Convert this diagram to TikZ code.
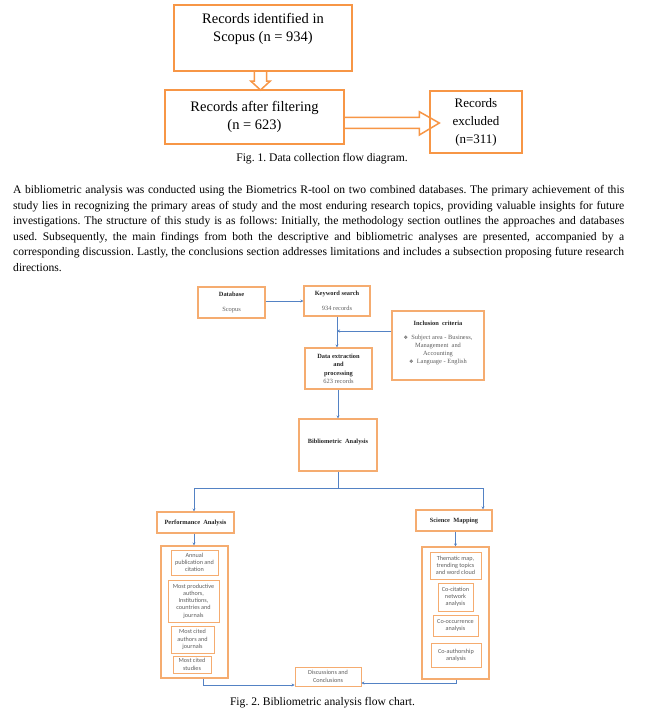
\documentclass[tikz,border=0pt]{standalone}
\usepackage{fontspec}
\setmainfont{Liberation Serif}
\newfontfamily\calfont{Carlito}
\newfontfamily\symfont{DejaVu Sans}
\usetikzlibrary{arrows.meta}
\frenchspacing

\definecolor{naranja}{RGB}{247,150,70}
\definecolor{naranjac}{RGB}{245,172,112}
\definecolor{azul}{RGB}{84,130,196}
\definecolor{gristxt}{RGB}{95,95,95}
\newcommand{\fino}[1]{{\mdseries\color{gristxt}#1}}
\newcommand{\vineta}{{\symfont\fontsize{5}{6}\selectfont ❖}}

\tikzset{
  caja/.style={draw=naranja, line width=2.3pt, inner sep=0pt, align=center, font=\fontsize{14.5}{17.5}\selectfont},
  cajita/.style={draw=naranjac, line width=1.1pt, inner sep=0pt, align=center, text=black!85, font=\fontsize{6.4}{8.5}\selectfont\bfseries},
  interior/.style={draw=naranjac, line width=0.9pt, inner sep=0pt, align=center, text=gristxt, font=\calfont\fontsize{6.2}{7.3}\selectfont},
  hueca/.style={draw=naranja, line width=1.5pt, fill=white},
  flecha/.style={draw=azul, line width=0.9pt, -{Stealth[length=3pt,width=3pt]}},
  linea/.style={draw=azul, line width=0.9pt},
  pie/.style={font=\fontsize{11.6}{14}\selectfont}
}

\begin{document}
\begin{tikzpicture}[x=1pt, y=-1pt]
    \useasboundingbox[fill=white] (0,0) rectangle (656,715);

    % Fig. 1: flechas huecas
    \draw[hueca] (254.3,71) -- (254.3,81) -- (250.7,81) -- (260.5,90) -- (270.3,81) -- (266.5,81) -- (266.5,71) -- cycle;
    \draw[hueca] (344,117.3) -- (419.3,117.3) -- (419.3,111.7) -- (439.3,123) -- (419.3,135) -- (419.3,128.3) -- (344,128.3) -- cycle;

    % Fig. 1: cajas
    \node[caja, minimum width=178pt, minimum height=66pt] (ident) at (263,38) {};
    \node[align=center, inner sep=0pt, font=\fontsize{14.5}{17.5}\selectfont] (identtxt) at (263,29) {Records identified in\\Scopus (n = 934)};
    \node[caja, minimum width=179pt, minimum height=54pt] (filt) at (254.5,117) {Records after filtering\\(n = 623)};
    \node[caja, minimum width=92pt, minimum height=62pt, font=\fontsize{13}{18}\selectfont] (excl) at (476,122) {Records\\excluded\\(n=311)};
    \node[pie] (pie1) at (322,159) {Fig. 1. Data collection flow diagram.};

    % Parrafo
    \node[text width=611pt, align=justify, anchor=north west, inner sep=0pt, font=\fontsize{11.6}{15.5}\selectfont] (parrafo) at (13,185.5) {A bibliometric analysis was conducted using the Biometrics R-tool on two combined databases. The primary achievement of this\linebreak study lies in recognizing the primary areas of study and the most enduring research topics, providing valuable insights for future\linebreak investigations. The structure of this study is as follows: Initially, the methodology section outlines the approaches and databases\linebreak used. Subsequently, the main findings from both the descriptive and bibliometric analyses are presented, accompanied by a\linebreak corresponding discussion. Lastly, the conclusions section addresses limitations and includes a subsection proposing future research\linebreak directions.};

    % Fig. 2: cajas superiores
    \node[cajita, minimum width=67pt, minimum height=31pt] (base) at (231.5,302.5) {Database\\[7pt]\fino{Scopus}};
    \node[cajita, minimum width=66pt, minimum height=30pt] (clave) at (337,301) {Keyword search\\[6pt]\fino{934 records}};
    \node[cajita, minimum width=92pt, minimum height=69pt] (inclu) at (438,345.5) {Inclusion\ \ criteria\\[5.5pt]
      \fino{\vineta\ \ Subject area - Business,}\\[-0.3pt]\fino{Management\ \ and}\\[-0.3pt]\fino{Accounting}\\[-0.3pt]\fino{\vineta\ \ Language - English}\\[-2pt]\mbox{}};
    \node[cajita, minimum width=67pt, minimum height=41pt] (datos) at (338.5,368.5) {Data extraction\\and\\processing\\[-0.5pt]\fino{623 records}};
    \node[cajita, minimum width=78pt, minimum height=52pt] (biblio) at (338,445) {Bibliometric\ \ Analysis\\[-2pt]\mbox{}};
    \node[cajita, minimum width=77pt, minimum height=21pt] (desem) at (195.5,522.5) {Performance\ \ Analysis};
    \node[cajita, minimum width=76pt, minimum height=21pt] (mapeo) at (454,520.5) {Science\ \ Mapping};

    % Fig. 2: contenedores y cajas interiores
    \node[cajita, minimum width=67pt, minimum height=132pt] (contizq) at (194.5,612) {};
    \node[cajita, minimum width=67pt, minimum height=132pt] (contder) at (455.5,613) {};
    \node[interior, minimum width=47pt, minimum height=25pt] (anual) at (194.5,562.5) {Annual\\publication and\\citation};
    \node[interior, minimum width=51pt, minimum height=42pt] (prod) at (193.5,601) {Most productive\\authors,\\Institutions,\\countries and\\journals};
    \node[interior, minimum width=43pt, minimum height=27pt] (citaut) at (192.5,639.5) {Most cited\\authors and\\journals};
    \node[interior, minimum width=38pt, minimum height=17pt] (citest) at (192,664.5) {Most cited\\studies};
    \node[interior, minimum width=51pt, minimum height=27pt] (tema) at (455.5,565.5) {Thematic map,\\trending topics\\and word cloud};
    \node[interior, minimum width=35pt, minimum height=28pt] (cocit) at (455.5,597) {Co-citation\\network\\analysis};
    \node[interior, minimum width=45pt, minimum height=21pt] (cooc) at (455.5,625.5) {Co-occurrence\\analysis};
    \node[interior, minimum width=50pt, minimum height=24pt] (coaut) at (456,655) {Co-authorship\\analysis};
    \node[interior, minimum width=66pt, minimum height=19pt] (discu) at (328,676.5) {Discussions and\\Conclusions};
    \node[pie] (pie2) at (322.5,703) {Fig. 2. Bibliometric analysis flow chart.};

    % Fig. 2: conectores
    \coordinate (union) at (337,331);
    \coordinate (ramaizq) at (194,488);
    \coordinate (ramader) at (483,488);
    \coordinate (esqizq) at (203,685);
    \coordinate (esqder) at (456,683);
    \draw[flecha] (base.east |- clave.west) -- (clave.west);
    \draw[flecha] (clave.south) -- (clave.south |- datos.north);
    \draw[flecha] (inclu.west |- union) -- (union);
    \draw[flecha] (biblio.north |- datos.south) -- (biblio.north);
    \draw[linea] (biblio.south) -- (biblio.south |- ramaizq);
    \draw[linea] (ramaizq) -- (ramader);
    \draw[flecha] (ramaizq) -- (ramaizq |- desem.north);
    \draw[flecha] (ramader) -- (ramader |- mapeo.north);
    \draw[flecha] (ramaizq |- desem.south) -- (ramaizq |- contizq.north);
    \draw[flecha] (contder.north |- mapeo.south) -- (contder.north);
    \draw[flecha] (esqizq |- contizq.south) -- (esqizq) -- (esqizq -| discu.west);
    \draw[flecha] (esqder |- contder.south) -- (esqder) -- (esqder -| discu.east);
\end{tikzpicture}
\end{document}
